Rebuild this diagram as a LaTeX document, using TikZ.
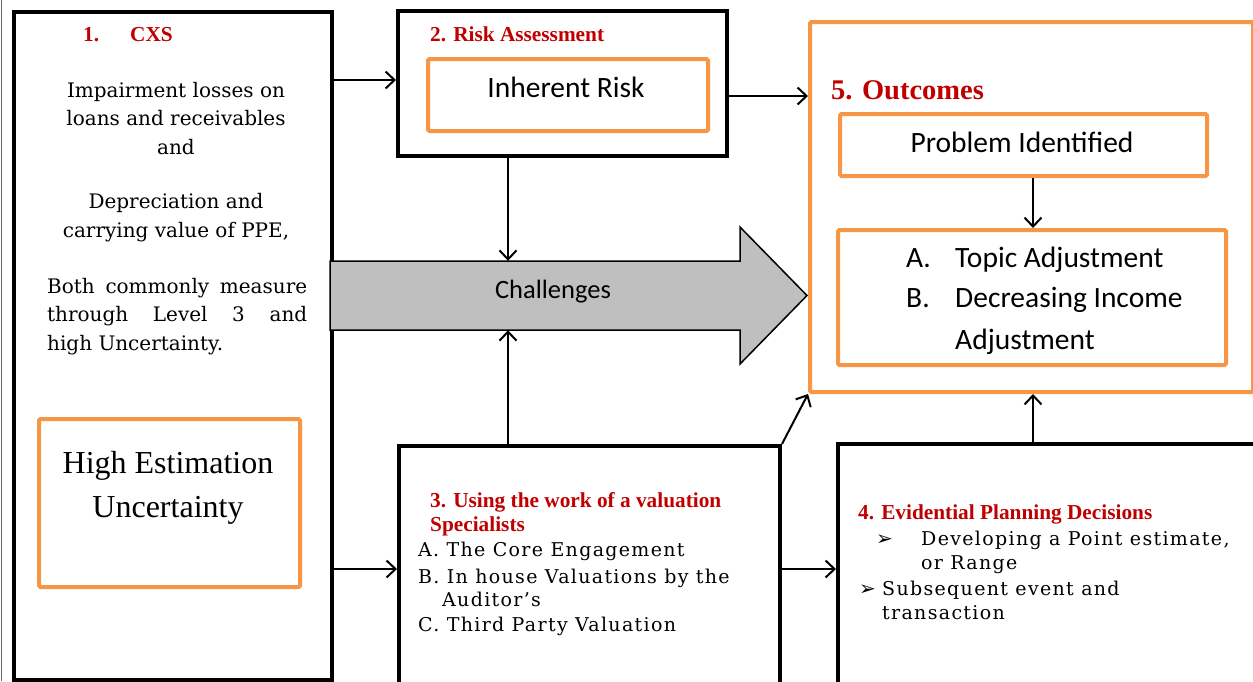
\documentclass[tikz,border=0pt]{standalone}
\usepackage{fontspec}
\setmainfont{Liberation Serif}
\newfontfamily\bookfont{DejaVu Serif}
\newfontfamily\calfont{Carlito}
\newfontfamily\symfont{DejaVu Sans}
\usetikzlibrary{arrows.meta}
\definecolor{accorange}{HTML}{F79646}
\definecolor{headred}{HTML}{C00000}
\definecolor{arrowgray}{HTML}{BFBFBF}
\begin{document}
\begin{tikzpicture}[x=1pt, y=-1pt,
    blackbox/.style={draw, line width=4pt, anchor=north west, inner sep=0pt},
    orangebox/.style={draw=accorange, line width=4pt, rounded corners=1.5pt, anchor=north west, inner sep=0pt},
    head/.style={text=headred, font=\fontsize{21.3}{24}\selectfont\bfseries, anchor=base west, inner sep=0pt},
    body/.style={font=\bookfont\fontsize{20}{28.5}\selectfont, inner sep=0pt},
    small/.style={font=\bookfont\fontsize{19}{25}\selectfont\addfontfeature{LetterSpace=7}, inner sep=0pt, anchor=base west},
    cal/.style={font=\calfont\fontsize{29.5}{32}\selectfont, inner sep=0pt},
    link/.style={line width=2pt, -{Straight Barb[length=9pt, width=17pt, line width=2pt]}}]
\useasboundingbox (0,0) rectangle (1253,681);
\draw[line width=1.5pt, black!60] (1.5,0) -- (1.5,681);
% boxes
\node[blackbox, minimum width=318, minimum height=668] (cxs) at (12,10) {};
\node[blackbox, minimum width=329, minimum height=145] (risk) at (396,9) {};
\node[orangebox, minimum width=280, minimum height=72] (inh) at (426,57) {};
\node[orangebox, minimum width=443, minimum height=370] (outc) at (808,20) {};
\node[orangebox, minimum width=367, minimum height=62] (prob) at (838,112) {};
\node[orangebox, minimum width=388, minimum height=135] (topic) at (836,228) {};
\node[blackbox, minimum width=381, minimum height=246] (val) at (397,444) {};
\node[blackbox, minimum width=424, minimum height=250] (plan) at (836,442) {};
\node[orangebox, minimum width=261, minimum height=168] (hiu) at (37,417) {};
% challenges arrow
\draw[fill=arrowgray, line width=1.5pt, line join=miter] (330,261) -- (740,261) -- (740,227) -- (807,295.5) -- (740,364) -- (740,330) -- (330,330) -- cycle;
\node[minimum width=410, minimum height=69, anchor=west, inner sep=0pt] (chal) at (330,295.5) {};
\node[cal, font=\calfont\fontsize{26.5}{30}\selectfont, anchor=base] (chaltxt) at (553,298) {Challenges};
% texts
\node[head] (h1) at (83,41) {1.\hspace{31pt}CXS};
\node[body, align=center, anchor=base] (t1) at (176,154) {Impairment losses on\\loans and receivables\\and};
\node[body, align=center, anchor=base] (t2) at (176,237) {Depreciation and\\carrying value of PPE,};
\node[body, text width=260, align=justify, anchor=base west] (t3) at (47,293) {Both commonly measure\linebreak through Level 3 and\linebreak high Uncertainty.};
\node[font=\fontsize{32}{44}\selectfont, align=center, inner sep=0pt, anchor=base] (t4) at (168,517) {High Estimation\\Uncertainty};
\node[head] (h2) at (430,41) {2. Risk Assessment};
\node[cal, anchor=base] (t5) at (566,97) {Inherent Risk};
\node[head, font=\fontsize{28.5}{36}\selectfont\bfseries] (h5) at (831,99) {5. Outcomes};
\node[cal, anchor=base] (t6) at (1022,152) {Problem Identified};
\node[cal, anchor=base west] (la) at (906,267) {A.};
\node[cal, anchor=base west] (t7) at (955,267) {Topic Adjustment};
\node[cal, anchor=base west] (lb) at (906,307) {B.};
\node[cal, anchor=base west] (t8) at (955,307) {Decreasing Income};
\node[cal, anchor=base west] (t9) at (955,349) {Adjustment};
\node[head, align=left] (h3) at (430,531) {3. Using the work of a valuation\\Specialists};
\node[small] (t10) at (418,556) {A. The Core Engagement};
\node[small] (t11) at (418,583) {B. In house Valuations by the};
\node[small] (t12) at (442,606) {Auditor’s};
\node[small] (t13) at (418,631) {C. Third Party Valuation};
\node[head] (h4) at (858,519) {4. Evidential Planning Decisions};
\node[small] (b1) at (876,545) {\symfont\fontsize{20}{25}\selectfont ➢};
\node[small] (t14) at (921,545) {Developing a Point estimate,};
\node[small] (t15) at (921,569) {or Range};
\node[small] (b2) at (859,595) {\symfont\fontsize{20}{25}\selectfont ➢};
\node[small] (t16) at (882,595) {Subsequent event and};
\node[small] (t17) at (882,619) {transaction};
% connectors
\coordinate (vx) at (508,0);
\coordinate (wx) at (1033,0);
\draw[link] (cxs.east |- 0,80) -- (risk.west |- 0,80);
\draw[link] ([yshift=-12.5pt]risk.east) -- ([yshift=-12.5pt]risk.east -| outc.west);
\draw[link] (risk.south -| vx) -- (chal.north -| vx);
\draw[link] (val.north -| vx) -- (chal.south -| vx);
\draw[link] (cxs.east |- val.west) -- (val.west);
\draw[link] (val.east |- plan.west) -- (plan.west);
\draw[link] (val.north east) -- (outc.south west);
\draw[link] (plan.north -| wx) -- (outc.south -| wx);
\draw[link] (prob.south -| wx) -- (topic.north -| wx);
\end{tikzpicture}
\end{document}
